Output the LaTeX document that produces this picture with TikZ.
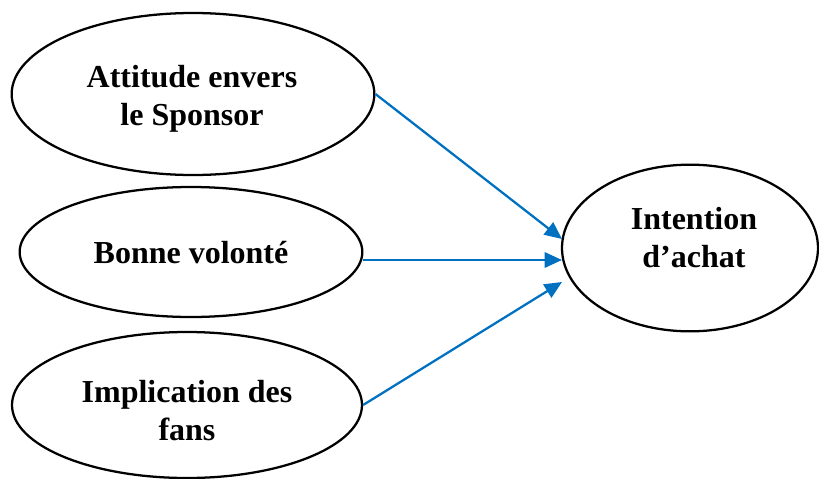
\documentclass[tikz,border=0pt]{standalone}
\usepackage{fontspec}
\setmainfont{Liberation Serif}
\usetikzlibrary{shapes.geometric, arrows.meta}
\definecolor{bleufleche}{RGB}{0,112,192}

\tikzset{
	var/.style={ellipse, draw, line width=1.7pt, inner sep=0pt},
	lib/.style={align=center, inner sep=0pt,
		font=\fontsize{24}{28.5}\selectfont\bfseries},
	fleche/.style={draw=bleufleche, line width=1.7pt,
		-{Triangle[length=13pt, width=11.5pt]}}
}

\begin{document}
\begin{tikzpicture}[x=0.75pt, y=-0.75pt]
		\path[use as bounding box, clip] (0,0) rectangle (819,479);
		% variables explicatives
		\node[var, minimum width=272pt, minimum height=121.5pt] (att) at (193,94){};
		\node[var, minimum width=257pt, minimum height=97.5pt] (bonne) at (191,252){};
		\node[var, minimum width=262.5pt, minimum height=109.5pt] (impl) at (187,405){};
		\node[lib] (att-lib) at (192,99){Attitude envers\\le Sponsor};
		\node[lib] (bonne-lib) at (191,253){Bonne volont\'e};
		\node[lib] (impl-lib) at (187,411){Implication des\\fans};
		% variable expliquee
		\node[var, minimum width=192pt, minimum height=125pt] (intent) at (690,248){};
		\node[lib] (intent-lib) at (694,238){Intention\\d'achat};
		\coordinate (t1) at (562,239);
		\coordinate (t2) at (562,260);
		\coordinate (t3) at (562,282);
		\draw[fleche] (att.east) -- (t1);
		\draw[fleche] (bonne.east |- t2) -- (t2);
		\draw[fleche] (impl.east) -- (t3);
	\end{tikzpicture}
\end{document}
